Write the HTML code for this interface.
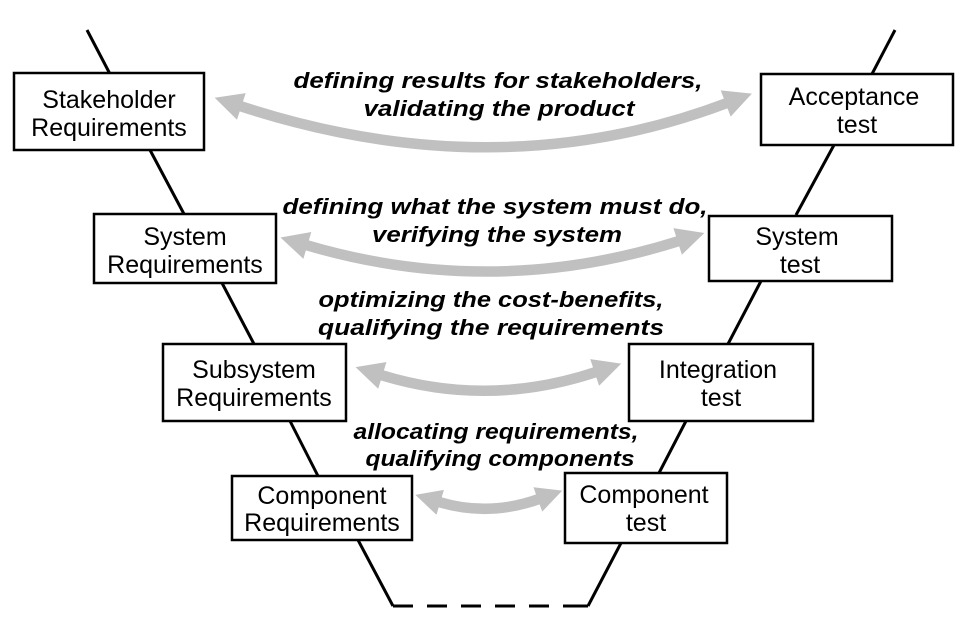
<!DOCTYPE html>
<html><head><style>
html,body{margin:0;padding:0;background:#fff;}
svg{display:block;}
.b{fill:#fff;stroke:#000;stroke-width:2.5;}
.t{font-family:"Liberation Sans",sans-serif;font-size:25px;text-anchor:middle;fill:#000;}
.i{font-family:"Liberation Sans",sans-serif;font-size:22px;font-weight:bold;font-style:italic;text-anchor:middle;fill:#000;}
.a{fill:none;stroke:#c0c0c0;stroke-width:10.5;}
</style></head><body>
<svg width="974" height="622" viewBox="0 0 974 622" xmlns="http://www.w3.org/2000/svg">
<defs>
<marker id="h" markerUnits="userSpaceOnUse" markerWidth="30" markerHeight="28" viewBox="0 0 10 10" refX="0.5" refY="5" orient="auto-start-reverse"><path d="M0,0 L10,5 L0,10 z" fill="#c0c0c0"/></marker>
<marker id="s" markerUnits="userSpaceOnUse" markerWidth="26" markerHeight="26" viewBox="0 0 10 10" refX="0.5" refY="5" orient="auto-start-reverse"><path d="M0,0 L10,5 L0,10 z" fill="#c0c0c0"/></marker>
</defs>
<g stroke="#000" stroke-width="3" fill="none">
<line x1="87" y1="30" x2="110" y2="74"/>
<line x1="150" y1="150" x2="184" y2="214"/>
<line x1="222" y1="283" x2="254" y2="344"/>
<line x1="290" y1="421" x2="318" y2="476"/>
<line x1="358" y1="540" x2="393" y2="606"/>
<line x1="393" y1="606" x2="588" y2="606" stroke-dasharray="20,14"/>
<line x1="572" y1="606" x2="588" y2="606"/>
<line x1="588" y1="606" x2="621" y2="543"/>
<line x1="686" y1="421" x2="659" y2="473"/>
<line x1="761" y1="281" x2="728" y2="344"/>
<line x1="834" y1="145" x2="796" y2="215"/>
<line x1="895" y1="30" x2="872" y2="74"/>
</g>
<path class="a" d="M240,106 Q497,190 727,103" marker-start="url(#h)" marker-end="url(#h)"/>
<path class="a" d="M306,245 Q492,300 679,241" marker-start="url(#h)" marker-end="url(#h)"/>
<path class="a" d="M381,375 Q488,408 596,372" marker-start="url(#h)" marker-end="url(#h)"/>
<path class="a" d="M439,502 Q489,517 539,499" marker-start="url(#s)" marker-end="url(#s)"/>

<rect class="b" x="14" y="73" width="190" height="77"/>
<text class="t" x="109" y="108">Stakeholder</text><text class="t" x="109" y="136">Requirements</text>
<rect class="b" x="94" y="214" width="182" height="69"/>
<text class="t" x="185" y="245">System</text><text class="t" x="185" y="273">Requirements</text>
<rect class="b" x="163" y="344" width="183" height="77"/>
<text class="t" x="254" y="378">Subsystem</text><text class="t" x="254" y="406">Requirements</text>
<rect class="b" x="232" y="476" width="180" height="64"/>
<text class="t" x="322" y="504">Component</text><text class="t" x="322" y="531">Requirements</text>
<rect class="b" x="761" y="74" width="192" height="71"/>
<text class="t" x="854" y="105">Acceptance</text><text class="t" x="857" y="133">test</text>
<rect class="b" x="709" y="216" width="183" height="65"/>
<text class="t" x="797" y="245">System</text><text class="t" x="800" y="273">test</text>
<rect class="b" x="629" y="344" width="184" height="77"/>
<text class="t" x="718" y="378">Integration</text><text class="t" x="721" y="406">test</text>
<rect class="b" x="565" y="473" width="162" height="70"/>
<text class="t" x="644" y="503">Component</text><text class="t" x="646" y="531">test</text>

<text class="i" x="498" y="88" textLength="409" lengthAdjust="spacingAndGlyphs">defining results for stakeholders,</text>
<text class="i" x="499" y="116" textLength="271" lengthAdjust="spacingAndGlyphs">validating the product</text>
<text class="i" x="495" y="214" textLength="425" lengthAdjust="spacingAndGlyphs">defining what the system must do,</text>
<text class="i" x="497" y="242" textLength="250" lengthAdjust="spacingAndGlyphs">verifying the system</text>
<text class="i" x="491" y="307" textLength="345" lengthAdjust="spacingAndGlyphs">optimizing the cost-benefits,</text>
<text class="i" x="491" y="335" textLength="346" lengthAdjust="spacingAndGlyphs">qualifying the requirements</text>
<text class="i" x="496" y="439" textLength="285" lengthAdjust="spacingAndGlyphs">allocating requirements,</text>
<text class="i" x="500" y="466" textLength="269" lengthAdjust="spacingAndGlyphs">qualifying components</text>
</svg>
</body></html>
